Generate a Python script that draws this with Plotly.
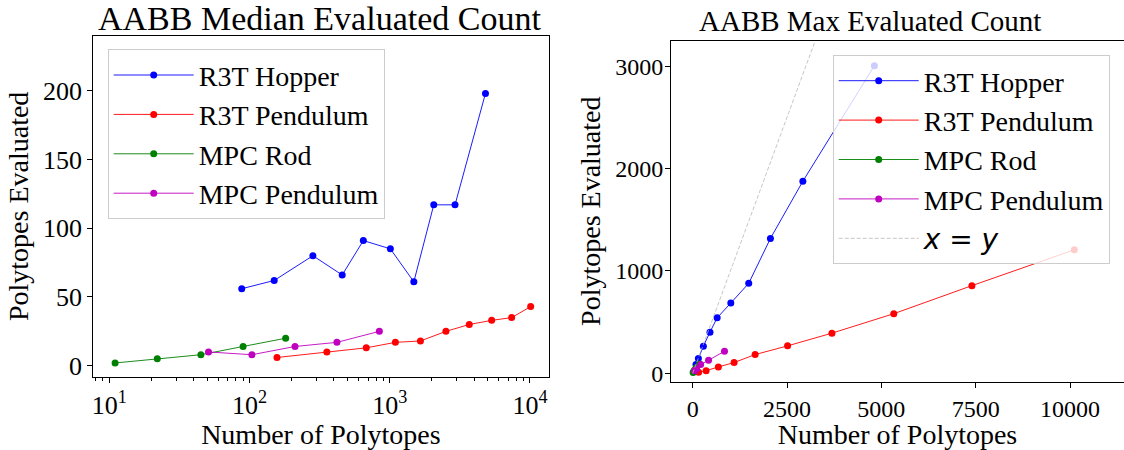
import plotly.graph_objects as go

# ---------------- data ----------------
hop_x = [88, 150, 283, 458, 648, 1010, 1485, 2060, 2920, 4815]
hop_med = [56, 62, 80, 66, 91, 85, 61, 117, 117, 198]
hop_max = [85, 144, 265, 402, 542, 686, 879, 1317, 1876, 3003]

rpend_x = [157, 356, 680, 1097, 1655, 2515, 3690, 5330, 7400, 10114]
rpend_med = [6, 10, 13, 17, 18, 25, 30, 33, 35, 43]
rpend_max = [10, 26, 62, 105, 183, 268, 392, 582, 856, 1206]

rod_x = [11, 22, 45, 90, 181]
rod_med = [2, 5, 8, 14, 20]
rod_max = [8, 15, 30, 55, 90]

mpend_x = [51, 104, 211, 420, 843]
mpend_med = [10, 8, 14, 17, 25]
mpend_max = [26, 42, 85, 127, 215]

series_names = ["R3T Hopper", "R3T Pendulum", "MPC Rod", "MPC Pendulum"]
series_colors = ["#0000ff", "#ff0000", "#008000", "#bf00bf"]

left_xticks = [10, 100, 1000, 10000]
left_xticktext = ["10<sup>1</sup>", "10<sup>2</sup>", "10<sup>3</sup>", "10<sup>4</sup>"]
left_xminor = [m * 10 ** k for k in range(0, 5) for m in range(2, 10)]
left_yticks = [0, 50, 100, 150, 200]
right_xticks = [0, 2500, 5000, 7500, 10000]
right_xticktext = ["0", "2500", "5000", "7500", "10000"]
right_yticks = [0, 1000, 2000, 3000]

xs = [hop_x, rpend_x, rod_x, mpend_x]
meds = [hop_med, rpend_med, rod_med, mpend_med]
maxs = [hop_max, rpend_max, rod_max, mpend_max]

FONT = "Liberation Serif"
W, H = 1124, 450

fig = go.Figure()

for i, (nm, col) in enumerate(zip(series_names, series_colors)):
    fig.add_trace(go.Scatter(
        x=xs[i], y=meds[i], mode="lines+markers", name=nm,
        line=dict(color=col, width=0.9), marker=dict(color=col, size=7),
        xaxis="x", yaxis="y", legend="legend", legendgroup="L%d" % i,
    ))

for i, (nm, col) in enumerate(zip(series_names, series_colors)):
    fig.add_trace(go.Scatter(
        x=xs[i], y=maxs[i], mode="lines+markers", name=nm,
        line=dict(color=col, width=0.9), marker=dict(color=col, size=7),
        xaxis="x2", yaxis="y2", legend="legend2", legendgroup="R%d" % i,
    ))

xy_max = max(max(v) for v in xs)
fig.add_trace(go.Scatter(
    x=[0, xy_max], y=[0, xy_max], mode="lines",
    name="<span style='font-family:DejaVu Sans'><i>x</i> = <i>y</i></span>",
    line=dict(color="#b8b8b8", width=0.8, dash="4px,2px"),
    xaxis="x2", yaxis="y2", legend="legend2", legendgroup="R4",
))


def axis_style(tick_size):
    return dict(
        showline=True, linecolor="black", linewidth=1,
        ticks="outside", ticklen=5, tickcolor="black", tickwidth=1,
        showgrid=False, zeroline=False, automargin=False,
        tickfont=dict(family=FONT, size=tick_size, color="black"),
        title_font=dict(family=FONT, size=28, color="black"),
    )


legend_common = dict(
    bgcolor="rgba(255,255,255,0.8)", bordercolor="#cccccc", borderwidth=1,
    font=dict(family=FONT, size=28, color="black"),
    xanchor="left", yanchor="top", traceorder="grouped", tracegroupgap=0,
    itemwidth=80,
)

fig.update_layout(
    width=W, height=H,
    margin=dict(l=0, r=0, t=0, b=0, autoexpand=False),
    paper_bgcolor="white", plot_bgcolor="white",
    showlegend=True,
    xaxis=dict(
        type="log", range=[0.886, 4.132], domain=[93.3 / W, 548.5 / W],
        tickvals=left_xticks, ticktext=left_xticktext, mirror=True,
        minor=dict(tickmode="array", tickvals=left_xminor, ticks="outside",
                   ticklen=3, tickcolor="black", showgrid=False),
        title=dict(text="Number of Polytopes", standoff=2),
        anchor="y", **axis_style(26),
    ),
    yaxis=dict(
        range=[-8.2, 240], domain=[1 - 377 / H, 1 - 35.7 / H],
        tickvals=left_yticks, mirror=True,
        title=dict(text="Polytopes Evaluated", standoff=6),
        anchor="x", **axis_style(26),
    ),
    xaxis2=dict(
        range=[-575, 11431], domain=[671 / W, 1.0],
        tickvals=right_xticks, ticktext=right_xticktext, mirror=True,
        title=dict(text="Number of Polytopes", standoff=2),
        anchor="y2", **axis_style(24),
    ),
    yaxis2=dict(
        range=[-82, 3248], domain=[1 - 381.7 / H, 1 - 40.7 / H],
        tickvals=right_yticks, mirror=False, ticklabelstandoff=-3,
        title=dict(text="Polytopes Evaluated", standoff=6),
        anchor="x2", **axis_style(24),
    ),
    legend=dict(x=107.7 / W, y=1 - 49.3 / H, **legend_common),
    legend2=dict(x=832.7 / W, y=1 - 55 / H, **legend_common),
    annotations=[
        dict(text="AABB Median Evaluated Count", x=319 / W, y=1 - 18 / H,
             xref="paper", yref="paper", showarrow=False,
             font=dict(family=FONT, size=34, color="black"),
             xanchor="center", yanchor="middle"),
        dict(text="AABB Max Evaluated Count", x=870 / W, y=1 - 21 / H,
             xref="paper", yref="paper", showarrow=False,
             font=dict(family=FONT, size=29, color="black"),
             xanchor="center", yanchor="middle"),
    ],
)

fig.write_html(
    "out.html",
    config={"displayModeBar": False},
    post_script="document.body.style.margin='0';document.body.style.overflow='hidden';",
)
